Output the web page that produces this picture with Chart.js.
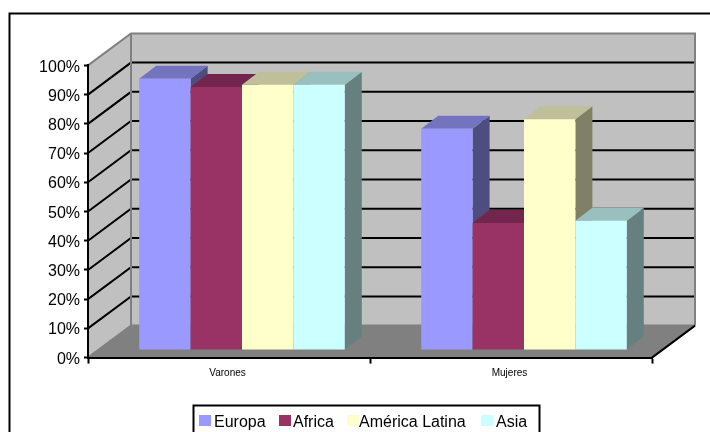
<!DOCTYPE html>
<html>
<head>
<meta charset="utf-8">
<style>
  html, body { margin: 0; padding: 0; background: #fff; overflow: hidden; }
  canvas { display: block; }
</style>
<script src="https://cdn.jsdelivr.net/npm/chart.js@4"></script>
</head>
<body>
<canvas id="chart" width="710" height="432"></canvas>
<script>
const categories = ["Varones", "Mujeres"];
const seriesNames = ["Europa", "Africa", "América Latina", "Asia"];
const europa = [92.8, 75.7];
const africa = [90, 43.5];
const americaLatina = [90.8, 79];
const asia = [90.8, 44.2];
const colors = ["#9999ff", "#993366", "#ffffcc", "#ccffff"];

const FONT = '"Liberation Sans", Arial, sans-serif';
const WALL_DX = 43, WALL_DY = 32;     // depth of the box
const BAR_DX = 17, BAR_DY = 13;       // depth of one bar
const BAR_SHIFT_X = 13, BAR_SHIFT_Y = -7.6; // bars stand inside the floor
const LEGEND_SWATCH_X = [199, 279, 347, 481];
const LEGEND_TEXT_X = [214, 293, 359, 496];

function shade(hex, f) {
  const n = parseInt(hex.slice(1), 16);
  const c = [n >> 16, (n >> 8) & 255, n & 255].map(v => Math.round(v * f));
  return `rgb(${c[0]},${c[1]},${c[2]})`;
}

function poly(ctx, pts, fill, stroke, width) {
  ctx.beginPath();
  pts.forEach(([x, y], i) => i ? ctx.lineTo(x, y) : ctx.moveTo(x, y));
  if (fill) { ctx.closePath(); ctx.fillStyle = fill; ctx.fill(); }
  if (stroke) { ctx.strokeStyle = stroke; ctx.lineWidth = width; ctx.stroke(); }
}

const boxPlugin = {
  id: "box",

  // nudge the axis labels: value labels sit a little under their ticks
  afterLayout(chart) {
    const { chartArea: a, scales: { x, y } } = chart;
    y.getLabelItems(a).forEach(item => { item.options.translation[1] += 1.7; });
    x.getLabelItems(a).forEach(item => { item.options.translation[0] -= 1.5; });
  },

  // outer frame, walls, floor and the grid running round them
  beforeDraw(chart) {
    const { ctx, chartArea: a, scales: { y } } = chart;
    const dx = WALL_DX, dy = WALL_DY;
    ctx.save();
    ctx.fillStyle = "#fff";
    ctx.fillRect(0, 0, chart.width, chart.height);

    poly(ctx, [[9.5, 432], [9.5, 13.5], [710, 13.5]], null, "#000", 2);

    poly(ctx, [[a.left + dx, a.top - dy], [a.right + dx, a.top - dy], [a.right + dx, a.bottom - dy], [a.left + dx, a.bottom - dy]], "#c0c0c0");
    poly(ctx, [[a.left, a.top], [a.left + dx, a.top - dy], [a.left + dx, a.bottom - dy], [a.left, a.bottom]], "#c0c0c0");
    poly(ctx, [[a.left, a.bottom], [a.left + dx, a.bottom - dy], [a.right + dx, a.bottom - dy], [a.right, a.bottom]], "#808080");

    y.ticks.forEach(t => {
      if (t.value === 0 || t.value === 100) return;
      const py = y.getPixelForValue(t.value);
      poly(ctx, [[a.left, py], [a.left + dx, py - dy], [a.right + dx, py - dy]], null, "#000", 2);
    });

    poly(ctx, [[a.left, a.top], [a.left + dx, a.top - dy], [a.right + dx, a.top - dy], [a.right + dx, a.bottom - dy]], null, "#808080", 2);
    poly(ctx, [[a.left + dx, a.top - dy], [a.left + dx, a.bottom - dy], [a.right + dx, a.bottom - dy]], null, "#808080", 2);
    poly(ctx, [[a.left, a.bottom], [a.left + dx, a.bottom - dy]], null, "#808080", 2);
    poly(ctx, [[a.right, a.bottom], [a.right + dx, a.bottom - dy]], null, "#000", 2);
    ctx.restore();
  },

  // paint bars left to right so each one covers the side of its neighbour
  beforeDatasetsDraw(chart) {
    const { ctx } = chart;
    ctx.save();
    ctx.translate(BAR_SHIFT_X, BAR_SHIFT_Y);
    categories.forEach((_, i) => {
      chart.data.datasets.forEach((ds, d) => {
        const el = chart.getDatasetMeta(d).data[i];
        const { x, y, base, width } = el.getProps(["x", "y", "base", "width"], true);
        const l = x - width / 2, r = x + width / 2;
        poly(ctx, [[r, y], [r + BAR_DX, y - BAR_DY], [r + BAR_DX, base - BAR_DY], [r, base]], shade(colors[d], 0.5));
        poly(ctx, [[l, y], [l + BAR_DX, y - BAR_DY], [r + BAR_DX, y - BAR_DY], [r, y]], shade(colors[d], 0.75));
        el.draw(ctx);
      });
    });
    ctx.restore();
    return false;
  },

  afterDraw(chart) {
    const { ctx } = chart;
    ctx.save();
    poly(ctx, [[193.5, 432], [193.5, 405.5], [539.5, 405.5], [539.5, 432]], null, "#000", 2);
    ctx.font = `16px ${FONT}`;
    ctx.textBaseline = "alphabetic";
    seriesNames.forEach((name, i) => {
      ctx.fillStyle = colors[i];
      ctx.fillRect(LEGEND_SWATCH_X[i], 415, 12, 11);
      ctx.fillStyle = "#000";
      ctx.fillText(name, LEGEND_TEXT_X[i], 427);
    });
    ctx.restore();
  }
};

new Chart(document.getElementById("chart"), {
  type: "bar",
  data: {
    labels: categories,
    datasets: [europa, africa, americaLatina, asia].map((data, i) => ({
      label: seriesNames[i],
      data,
      backgroundColor: colors[i],
      borderWidth: 0,
      barPercentage: 1,
      categoryPercentage: 0.729
    }))
  },
  options: {
    responsive: false,
    animation: false,
    layout: { padding: { left: 0, top: 65.4, right: 58, bottom: 0 } },
    plugins: { legend: { display: false }, tooltip: { enabled: false } },
    scales: {
      x: {
        afterFit: s => { s.height = 74.4; },
        border: { color: "#000", width: 2 },
        grid: { drawOnChartArea: false, tickLength: 6, tickColor: "#000", tickWidth: 2 },
        ticks: { color: "#000", padding: 4, maxRotation: 0, font: { family: FONT, size: 10 } }
      },
      y: {
        min: 0,
        max: 100,
        afterFit: s => { s.width = 88; },
        border: { color: "#000", width: 2 },
        grid: { drawOnChartArea: false, tickLength: 4, tickColor: "#000", tickWidth: 2 },
        ticks: { stepSize: 10, color: "#000", padding: 4, font: { family: FONT, size: 16 }, callback: v => v + "%" }
      }
    }
  },
  plugins: [boxPlugin]
});
</script>
</body>
</html>
